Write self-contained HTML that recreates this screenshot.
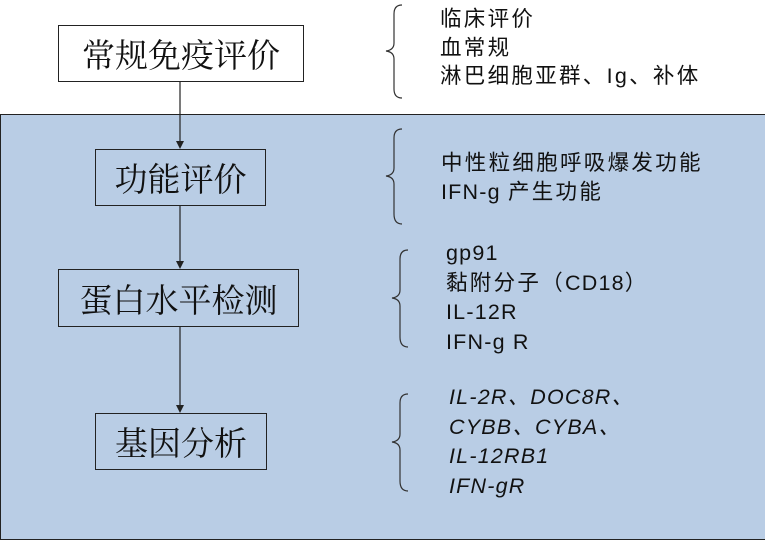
<!DOCTYPE html>
<html><head><meta charset="utf-8"><style>
body{margin:0;width:765px;height:538px;position:relative;overflow:hidden;background:#fff;font-family:"Liberation Sans","Noto Sans CJK SC",sans-serif}
.bg{position:absolute;left:0;top:114px;width:767px;height:426px;background:#b9cde5;border:1px solid #222;box-sizing:border-box}
.box{position:absolute;border:1px solid #222;box-sizing:border-box;font-family:"Noto Serif CJK SC",serif;font-size:33px;line-height:1;display:flex;align-items:center;justify-content:center;color:#111}
.t{position:absolute;font-size:21.5px;letter-spacing:1.2px;line-height:28.5px;color:#111;white-space:nowrap}
.c{letter-spacing:2.3px}
svg{position:absolute;left:0;top:0}
</style></head><body>
<div class="bg"></div>
<svg width="765" height="538">
<g stroke="#222" stroke-width="1.2" fill="#222">
<line x1="180" y1="81" x2="180" y2="141"/><polygon points="176,141 184,141 180,149" stroke="none"/>
<line x1="180" y1="205" x2="180" y2="261"/><polygon points="176,261 184,261 180,269" stroke="none"/>
<line x1="180" y1="326" x2="180" y2="405"/><polygon points="176,405 184,405 180,413" stroke="none"/>
</g>
<g stroke="#333" stroke-width="1.2" fill="none">
<path d="M402,5 Q394,5 394,14 L394,43 Q394,50 386,51 Q394,52 394,59 L394,89 Q394,98 402,98"/>
<path d="M402,129 Q394,129 394,138 L394,168 Q394,175 386,176 Q394,177 394,184 L394,214 Q394,224 402,224"/>
<path d="M408,250 Q400,250 400,259 L400,290 Q400,297 392,298 Q400,299 400,306 L400,337 Q400,347 408,347"/>
<path d="M408,394 Q400,394 400,403 L400,434 Q400,441 392,442 Q400,443 400,450 L400,481 Q400,491 408,491"/>
</g>
</svg>
<div class="box" style="left:58px;top:25px;width:246px;height:57px;background:#fff">常规免疫评价</div>
<div class="box" style="left:95px;top:149px;width:171px;height:57px">功能评价</div>
<div class="box" style="left:58px;top:269px;width:241px;height:58px">蛋白水平检测</div>
<div class="box" style="left:95px;top:413px;width:172px;height:57px">基因分析</div>
<div class="t c" style="left:440px;top:5px">临床评价<br>血常规<br>淋巴细胞亚群、Ig、补体</div>
<div class="t" style="left:441px;top:149px"><span class="c">中性粒细胞呼吸爆发功能</span><br>IFN-g <span class="c">产生功能</span></div>
<div class="t" style="left:446px;top:239px;line-height:29.5px">gp91<br><span class="c">黏附分子（</span>CD18）<br>IL-12R<br>IFN-g R</div>
<div class="t" style="left:449px;top:383px;line-height:29.5px;font-style:italic">IL-2R、DOC8R、<br>CYBB、CYBA、<br>IL-12RB1<br>IFN-gR</div>
</body></html>
